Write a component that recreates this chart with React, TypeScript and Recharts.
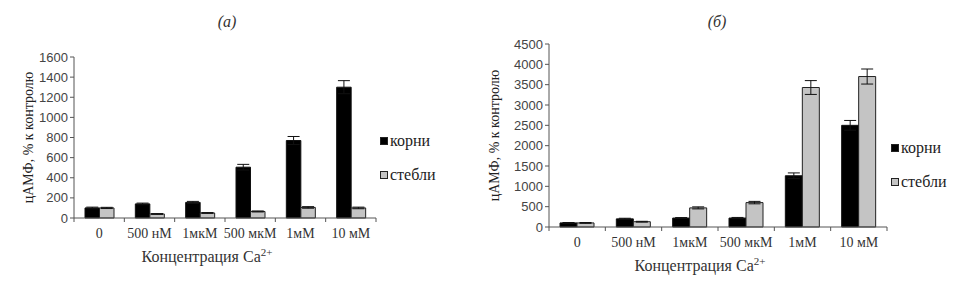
import { BarChart, Bar, XAxis, YAxis, ErrorBar, Label } from "recharts";

const categories = ["0", "500 нМ", "1мкМ", "500 мкМ", "1мМ", "10 мМ"];

// panel (а)
const rootsA = [100, 140, 155, 505, 770, 1300];
const rootsErrA = [8, 8, 10, 28, 40, 65];
const stemsA = [100, 40, 50, 65, 105, 100];
const stemsErrA = [6, 4, 4, 5, 8, 8];
const ticksA = [0, 200, 400, 600, 800, 1000, 1200, 1400, 1600];

// panel (б)
const rootsB = [100, 200, 220, 220, 1260, 2500];
const rootsErrB = [10, 15, 12, 15, 70, 120];
const stemsB = [100, 130, 470, 600, 3430, 3700];
const stemsErrB = [10, 10, 25, 30, 170, 185];
const ticksB = [0, 500, 1000, 1500, 2000, 2500, 3000, 3500, 4000, 4500];

const SERIF = "'Liberation Serif', 'DejaVu Serif', serif";
const SANS = "'Liberation Sans', Arial, sans-serif";
const GRAY = "#c4c4c4";

function buildRows(roots: number[], rootsErr: number[], stems: number[], stemsErr: number[]) {
  return categories.map((c, i) => ({
    name: c,
    roots: roots[i],
    rootsErr: rootsErr[i],
    stems: stems[i],
    stemsErr: stemsErr[i],
  }));
}

const dataA = buildRows(rootsA, rootsErrA, stemsA, stemsErrA);
const dataB = buildRows(rootsB, rootsErrB, stemsB, stemsErrB);

function LegendBox({ left, top, gap }: { left: number; top: number; gap: number }) {
  const items = [
    { label: "корни", fill: "#000" },
    { label: "стебли", fill: GRAY },
  ];
  return (
    <div style={{ position: "absolute", left, top, fontFamily: SERIF, fontSize: 16, color: "#222" }}>
      {items.map((it, i) => (
        <div
          key={it.label}
          style={{ display: "flex", alignItems: "center", height: 18, marginTop: i ? gap : 0 }}
        >
          <span
            style={{
              width: 8,
              height: 8,
              background: it.fill,
              border: "1px solid #222",
              marginRight: 2,
              boxSizing: "border-box",
            }}
          />
          {it.label}
        </div>
      ))}
    </div>
  );
}

// category label plus a small tick mark on the band boundary (like Excel charts)
function CategoryTick(props: any) {
  const { x, y, payload, index, half, axisY } = props;
  return (
    <g>
      {index === 0 && <line x1={x - half} x2={x - half} y1={axisY} y2={axisY + 4} stroke="#555" />}
      <line x1={x + half} x2={x + half} y1={axisY} y2={axisY + 4} stroke="#555" />
      <text x={x} y={y + 12} textAnchor="middle" fontFamily={SERIF} fontSize={14} fill="#333">
        {payload.value}
      </text>
    </g>
  );
}

interface PanelProps {
  data: ReturnType<typeof buildRows>;
  width: number;
  top: number;
  plotLeft: number;
  plotRight: number;
  plotBottom: number;
  ticks: number[];
  barSize: number;
  yLabelX: number;
  xLabelDy: number;
}

function Panel(p: PanelProps) {
  const height = 282;
  const half = (p.plotRight - p.plotLeft) / categories.length / 2;
  return (
    <BarChart
      width={p.width}
      height={height}
      data={p.data}
      margin={{ top: p.top, right: p.width - p.plotRight, left: 0, bottom: height - p.plotBottom - 52 }}
      barGap={0}
    >
      <XAxis
        dataKey="name"
        height={52}
        stroke="#555"
        tickLine={false}
        interval={0}
        tick={<CategoryTick half={half} axisY={p.plotBottom} />}
      >
        <Label
          content={({ viewBox }: any) => (
            <text
              x={viewBox.x + viewBox.width / 2 - 18}
              y={viewBox.y + p.xLabelDy}
              textAnchor="middle"
              fontFamily={SERIF}
              fontSize={16}
              fill="#333"
            >
              Концентрация Ca
              <tspan dy={-6} fontSize={11}>
                2+
              </tspan>
            </text>
          )}
        />
      </XAxis>
      <YAxis
        width={p.plotLeft}
        domain={[0, p.ticks[p.ticks.length - 1]]}
        ticks={p.ticks}
        interval={0}
        stroke="#555"
        tickSize={4}
        tick={{ fontFamily: SANS, fontSize: 13, fill: "#444" }}
      >
        <Label
          content={({ viewBox }: any) => (
            <text
              x={p.yLabelX}
              y={viewBox.y + viewBox.height / 2}
              textAnchor="middle"
              dominantBaseline="central"
              transform={`rotate(-90 ${p.yLabelX} ${viewBox.y + viewBox.height / 2})`}
              fontFamily={SERIF}
              fontSize={14}
              fill="#222"
            >
              цАМФ, % к контролю
            </text>
          )}
        />
      </YAxis>
      <Bar dataKey="roots" name="корни" fill="#000" stroke="#111" barSize={p.barSize} isAnimationActive={false}>
        <ErrorBar dataKey="rootsErr" width={6} stroke="#111" strokeWidth={1} direction="y" />
      </Bar>
      <Bar dataKey="stems" name="стебли" fill={GRAY} stroke="#222" barSize={p.barSize} isAnimationActive={false}>
        <ErrorBar dataKey="stemsErr" width={6} stroke="#111" strokeWidth={1} direction="y" />
      </Bar>
    </BarChart>
  );
}

const titleStyle = {
  position: "absolute" as const,
  top: 13,
  width: 40,
  textAlign: "center" as const,
  fontFamily: SERIF,
  fontStyle: "italic",
  fontSize: 16,
  color: "#333",
};

export default function App() {
  return (
    <div style={{ position: "absolute", left: 0, top: 0, width: 970, height: 282, background: "#fff" }}>
      <div style={{ ...titleStyle, left: 207 }}>(а)</div>
      <div style={{ ...titleStyle, left: 697 }}>(б)</div>
      <div style={{ position: "absolute", left: 0, top: 0 }}>
        <Panel
          data={dataA}
          width={480}
          top={57}
          plotLeft={74}
          plotRight={376}
          plotBottom={218}
          ticks={ticksA}
          barSize={14.5}
          yLabelX={28}
          xLabelDy={44}
        />
      </div>
      <div style={{ position: "absolute", left: 480, top: 0 }}>
        <Panel
          data={dataB}
          width={490}
          top={44}
          plotLeft={69}
          plotRight={407}
          plotBottom={227}
          ticks={ticksB}
          barSize={17}
          yLabelX={14}
          xLabelDy={44}
        />
      </div>
      <LegendBox left={380} top={132} gap={16} />
      <LegendBox left={891} top={139} gap={16} />
    </div>
  );
}
